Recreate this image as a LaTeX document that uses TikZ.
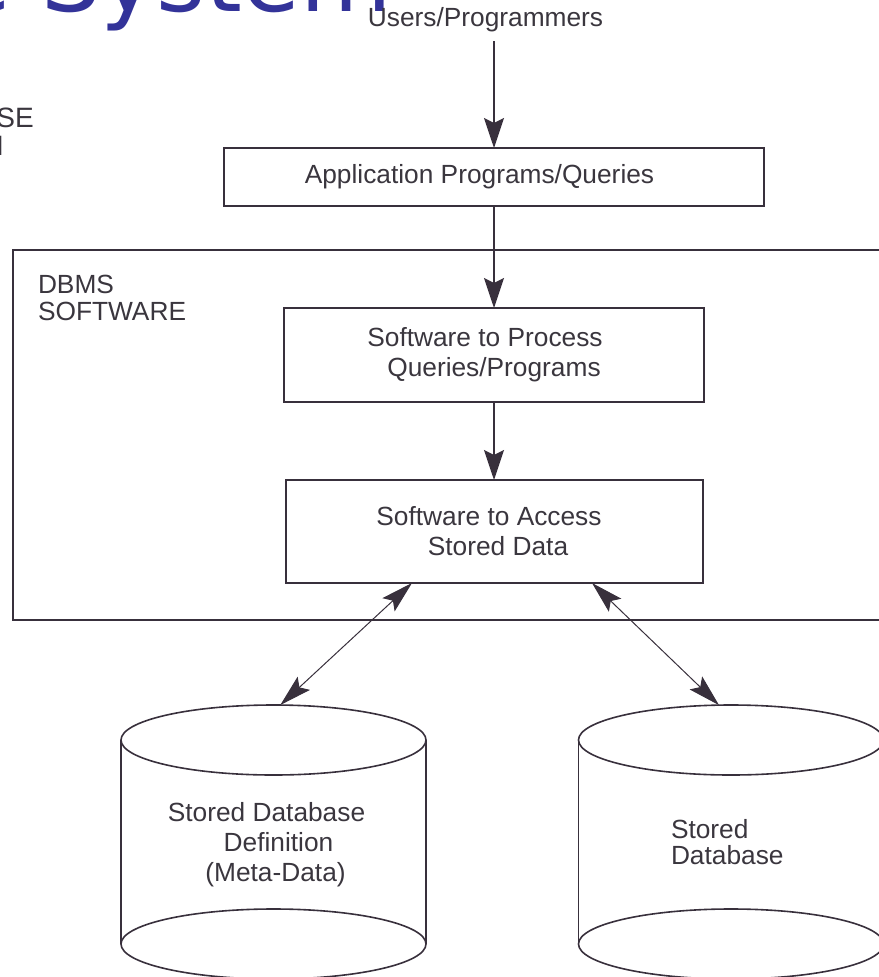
\documentclass[tikz,border=0pt]{standalone}
\usepackage{fontspec}
\setmainfont{Liberation Sans}
\newfontfamily\titlefont{DejaVu Sans}
\usetikzlibrary{arrows.meta,shapes.geometric}
\definecolor{ink}{RGB}{56,48,60}
\definecolor{txt}{RGB}{58,54,62}
\definecolor{titleblue}{RGB}{51,51,153}
\begin{document}
\begin{tikzpicture}[x=1pt,y=-1pt,
  box/.style={draw=ink, line width=2pt, inner sep=0pt, outer sep=0pt, text=txt, align=center,
    font=\fontsize{26.3}{30}\selectfont},
  lbl/.style={inner sep=0pt, outer sep=0pt, text=txt, font=\fontsize{26.3}{30}\selectfont},
  flow/.style={draw=ink, line width=1.8pt, -{Stealth[length=30pt,width=20pt,inset=5pt]}},
  twoway/.style={draw=ink, line width=1pt,
    {Stealth[length=32pt,width=18pt,inset=6pt]}-{Stealth[length=32pt,width=18pt,inset=6pt]}},
  disc/.style={ellipse, draw=ink, line width=1.6pt, minimum width=305pt, minimum height=70pt,
    inner sep=0pt, outer sep=0pt},
  side/.style={draw=ink, line width=1.6pt}]
\useasboundingbox (0,0) rectangle (878,977);

% cut-off title and side text
\node[anchor=base east, inner sep=0pt, text=titleblue,
  font=\titlefont\fontsize{94}{94}\selectfont] (title) at (392,12) {e System};
\node[lbl, anchor=north west, align=left, font=\fontsize{28}{28}\selectfont] (sidetext)
  at (-111.5,108) {DATABASE\\SYSTEM};

% users
\node[lbl, anchor=base] (users) at (485.5,26) {Users/Programmers};

% application box
\node[box, minimum width=540pt, minimum height=58pt] (app) at (494,177)
  {Application Programs/Queries\hspace*{29pt}};

% DBMS container
\node[draw=ink, line width=2pt, inner sep=0pt, outer sep=0pt, anchor=north west,
  minimum width=890pt, minimum height=370pt] (dbms) at (13,250) {};
\node[lbl, anchor=north west, align=left, font=\fontsize{26.3}{27}\selectfont] (dbmslbl)
  at (38,275) {DBMS\\SOFTWARE};

% process and access boxes
\node[box, minimum width=420pt, minimum height=94pt] (proc) at (494,355)
  {Software to Process\hspace*{18pt}\\Queries/Programs};
\node[box, minimum width=417pt, minimum height=103pt] (acc) at (494.5,531.5)
  {Software to Access\hspace*{11pt}\\\hspace*{7pt}Stored Data};

% left cylinder
\node[disc] (top1) at (273.5,740) {};
\node[disc] (bot1) at (273.5,944) {};
\draw[side] (top1.west) -- (bot1.west);
\draw[side] (top1.east) -- (bot1.east);
\node[lbl, align=center] (meta) at (273.5,845)
  {Stored Database\hspace*{14pt}\\\hspace*{10pt}Definition\\\hspace*{4pt}(Meta-Data)};

% right cylinder
\node[disc] (top2) at (731,740) {};
\node[disc] (bot2) at (731,944) {};
\draw[side] (top2.west) -- (bot2.west);
\draw[side] (top2.east) -- (bot2.east);
\node[lbl, align=left, anchor=west, font=\fontsize{26.3}{25.5}\selectfont] (stored)
  at (671,842) {Stored\\Database};

% connectors
\draw[flow, shorten <=10pt] (app.north |- users.south) -- (app.north);
\draw[flow] (app.south) -- (app.south |- proc.north);
\draw[flow] (proc.south) -- (proc.south |- acc.north);
\draw[twoway] ([xshift=-82.5pt]acc.south) -- (top1.79.5);
\draw[twoway] ([xshift=97.5pt]acc.south) -- (top2.109);
\end{tikzpicture}
\end{document}
